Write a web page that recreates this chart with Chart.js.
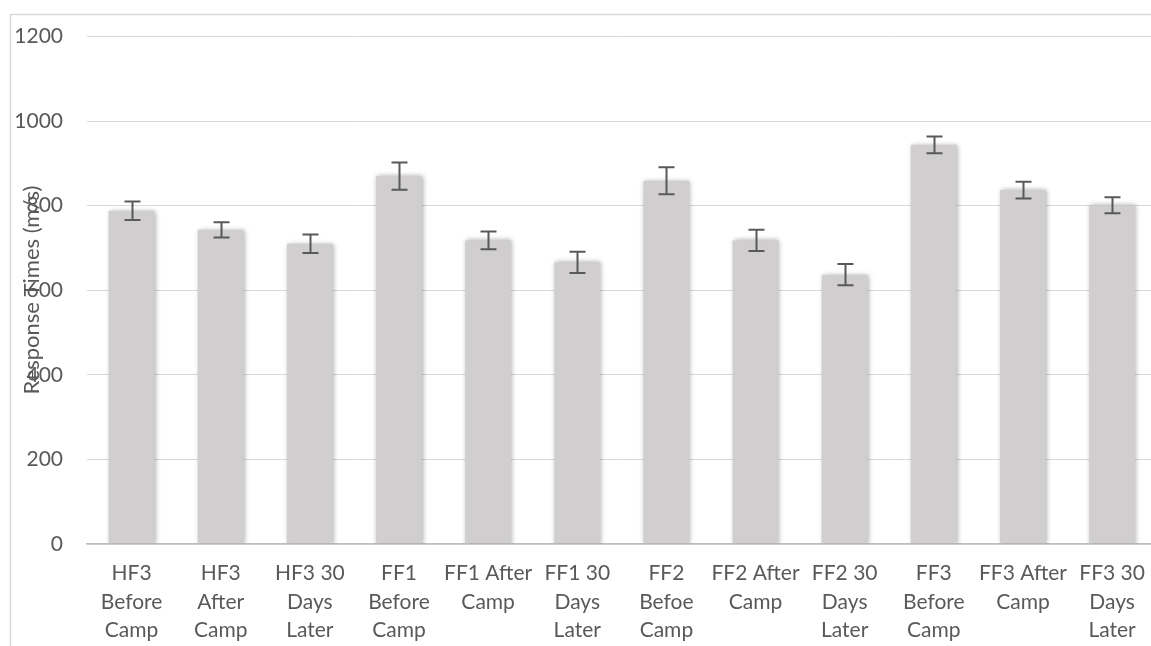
<!DOCTYPE html>
<html>
<head>
<meta charset="utf-8">
<script src="https://cdn.jsdelivr.net/npm/chart.js@4"></script>
<style>
  html, body { margin: 0; padding: 0; background: #fff; overflow: hidden; }
  #wrap { position: relative; width: 1160px; height: 646px; }
</style>
</head>
<body>
<div id="wrap"><canvas id="responseChart" width="1160" height="646"></canvas></div>
<script>
// Categories (multi-line labels, as in the original)
const categories = [
    ['HF3', 'Before', 'Camp'],
    ['HF3', 'After', 'Camp'],
    ['HF3 30', 'Days', 'Later'],
    ['FF1', 'Before', 'Camp'],
    ['FF1 After', 'Camp'],
    ['FF1 30', 'Days', 'Later'],
    ['FF2', 'Befoe', 'Camp'],
    ['FF2 After', 'Camp'],
    ['FF2 30', 'Days', 'Later'],
    ['FF3', 'Before', 'Camp'],
    ['FF3 After', 'Camp'],
    ['FF3 30', 'Days', 'Later']
];

// Mean response times and error (+/-)
const responseTimes = [788, 743, 710, 870, 718, 666, 859, 718, 637, 944, 837, 801];
const errorValues = [22, 18, 22, 32, 21, 25, 32, 25, 25, 20, 20, 19];

// Y axis ticks
const yTicks = [0, 200, 400, 600, 800, 1000, 1200];

const textColor = '#595959';
const gridColor = '#d9d9d9';

// Shadow round the bars (like the Excel shape effect)
const barShadow = {
    id: 'barShadow',
    beforeDatasetsDraw(chart) {
        const ctx = chart.ctx;
        ctx.save();
        ctx.shadowColor = 'rgba(0,0,0,0.35)';
        ctx.shadowBlur = 5;
        ctx.shadowOffsetX = 1;
        ctx.shadowOffsetY = 0;
    },
    afterDatasetsDraw(chart) {
        chart.ctx.restore();
    }
};

// Error bars drawn from the data arrays through the y scale
const errorBars = {
    id: 'errorBars',
    afterDatasetsDraw(chart) {
        const ctx = chart.ctx;
        const yScale = chart.scales.y;
        const meta = chart.getDatasetMeta(0);
        ctx.save();
        ctx.strokeStyle = textColor;
        ctx.lineWidth = 2;
        meta.data.forEach((bar, i) => {
            const x = Math.round(bar.x) + 0.5;
            const top = yScale.getPixelForValue(responseTimes[i] + errorValues[i]);
            const bottom = yScale.getPixelForValue(responseTimes[i] - errorValues[i]);
            ctx.beginPath();
            ctx.moveTo(x, top);
            ctx.lineTo(x, bottom);
            ctx.moveTo(x - 8, top);
            ctx.lineTo(x + 8, top);
            ctx.moveTo(x - 8, bottom);
            ctx.lineTo(x + 8, bottom);
            ctx.stroke();
        });
        ctx.restore();
    }
};

// Frame lines and the rotated axis title that sits over the tick labels
const frameAndTitle = {
    id: 'frameAndTitle',
    afterDraw(chart) {
        const ctx = chart.ctx;
        ctx.save();
        ctx.strokeStyle = gridColor;
        ctx.lineWidth = 1.5;
        ctx.beginPath();
        ctx.moveTo(10.5, 646);
        ctx.lineTo(10.5, 14.5);
        ctx.lineTo(1160, 14.5);
        ctx.stroke();

        ctx.translate(32, 290);
        ctx.rotate(-Math.PI / 2);
        ctx.fillStyle = textColor;
        ctx.font = '22px Lato';
        ctx.textAlign = 'center';
        ctx.textBaseline = 'middle';
        ctx.fillText('Response Times (m/s)', 0, 0);
        ctx.restore();
    }
};

function createResponseChart() {
    const ctx = document.getElementById('responseChart').getContext('2d');
    const chart = new Chart(ctx, {
        type: 'bar',
        data: {
            labels: categories,
            datasets: [{
                label: 'Response Times',
                data: responseTimes,
                backgroundColor: '#d0cece',
                borderWidth: 0,
                barPercentage: 0.515,
                categoryPercentage: 1
            }]
        },
        options: {
            responsive: false,
            animation: false,
            layout: { padding: { top: 32, left: 0, right: 2, bottom: 0 } },
            plugins: {
                legend: { display: false },
                tooltip: { enabled: false }
            },
            scales: {
                x: {
                    grid: { display: false, drawTicks: false },
                    border: { color: '#bfbfbf', width: 1.5 },
                    ticks: {
                        color: textColor,
                        font: { family: 'Lato', size: 21, lineHeight: 1.36 },
                        padding: 15,
                        maxRotation: 0,
                        autoSkip: false
                    },
                    afterFit(scale) { scale.height = 102; }
                },
                y: {
                    min: 0,
                    max: 1200,
                    afterBuildTicks(scale) {
                        scale.ticks = yTicks.map(v => ({ value: v }));
                    },
                    grid: { color: gridColor, drawTicks: false },
                    border: { display: false },
                    ticks: {
                        color: textColor,
                        font: { family: 'Lato', size: 21 },
                        padding: 24,
                        callback: value => String(value)
                    },
                    afterFit(scale) { scale.width = 87; }
                }
            }
        },
        plugins: [barShadow, errorBars, frameAndTitle]
    });
}

createResponseChart();
</script>
</body>
</html>
